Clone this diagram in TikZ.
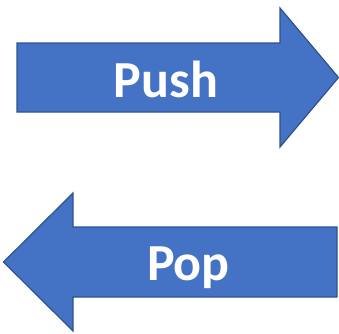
\documentclass[tikz,border=0pt]{standalone}
\usepackage{fontspec}
\setmainfont{Carlito}
\definecolor{arrfill}{HTML}{4472C4}
\definecolor{arrline}{HTML}{2F528F}
\begin{document}
\begin{tikzpicture}[x=1pt,y=-1pt,
  blockarrow/.style={fill=arrfill,draw=arrline,line width=1.2pt,line join=miter},
  arrlabel/.style={text=white,font=\bfseries\fontsize{52}{52}\selectfont,anchor=base,inner sep=0pt}]
\useasboundingbox (0,0) rectangle (339,333);
\draw[blockarrow] (17,43) -- (280,43) -- (280,8) -- (338.5,77.5) -- (280,147) -- (280,112) -- (17,112) -- cycle;
\draw[blockarrow] (337,227) -- (73,227) -- (73,193) -- (3.5,262) -- (73,331) -- (73,297) -- (337,297) -- cycle;
\node[arrlabel] (push) at (166,97) {Push};
\node[arrlabel] (pop) at (188.5,280) {Pop};
\end{tikzpicture}
\end{document}
